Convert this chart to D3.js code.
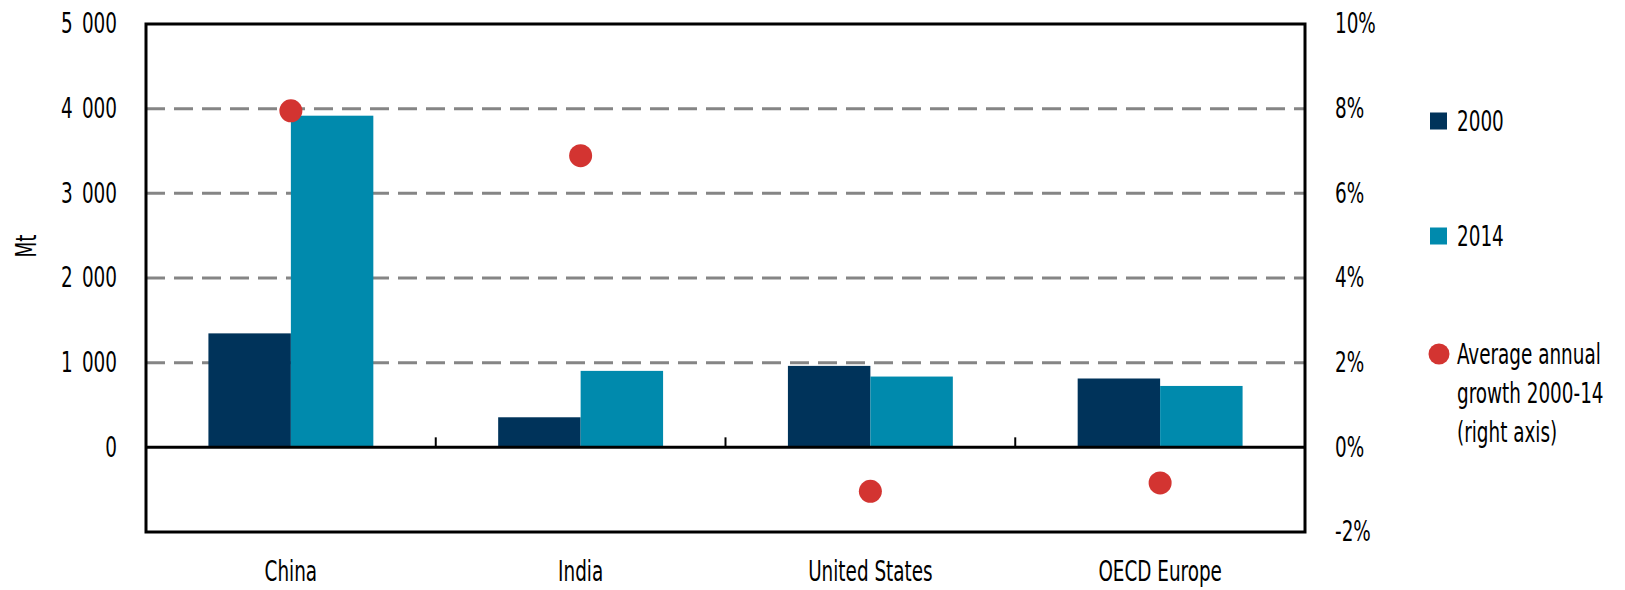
<!DOCTYPE html>
<html>
<head>
<meta charset="utf-8">
<script src="https://cdn.jsdelivr.net/npm/d3@7"></script>
<style>
  body { margin: 0; background: #fff; }
  svg text { font-family: "DejaVu Sans Condensed", "Liberation Sans Narrow", sans-serif; fill: #000; }
</style>
</head>
<body>
<div id="chart"></div>
<script>
// data
const regions = ["China", "India", "United States", "OECD Europe"];
const years = ["2000", "2014"];
const values2000 = [1346, 355, 962, 813];
const values2014 = [3917, 903, 836, 725];
const growth = [7.95, 6.89, -1.04, -0.84];   // % per year, right axis
const leftTicks = [0, 1000, 2000, 3000, 4000, 5000];
const rightTicks = [-2, 0, 2, 4, 6, 8, 10];
const gridTicks = [1000, 2000, 3000, 4000];
const legendLabels = ["2000", "2014", "Average annual|growth 2000-14|(right axis)"];

const colors = { y2000: "#00335a", y2014: "#008aad", dot: "#d33431", grid: "#858585" };

const W = 1625, H = 590;
const plot = { left: 146, right: 1305, top: 24, bottom: 532 };
const fontSize = 28;
const squeezeX = 0.73; // reference font is a narrow condensed face

const svg = d3.select("#chart").append("svg")
    .attr("width", W)
    .attr("height", H);

// scales
const y = d3.scaleLinear().domain([-1000, 5000]).range([plot.bottom, plot.top]);
const yR = d3.scaleLinear().domain([-2, 10]).range([plot.bottom, plot.top]);
const x = d3.scaleBand().domain(regions).range([plot.left, plot.right]).padding(0);
const x1 = d3.scaleBand().domain(years).range([0, x.bandwidth()]).paddingInner(0).paddingOuter(0.757);

const rows = regions.map((r, i) => ({ region: r, values: [values2000[i], values2014[i]] }));

// compress text horizontally, keeping its anchor point
function squeeze(texts) {
    texts.each(function () {
        const t = d3.select(this);
        const x0 = +t.attr("x") || 0;
        t.attr("x", x0 / squeezeX)
            .attr("transform", `scale(${squeezeX},1)`);
    });
}

// gridlines
svg.append("g")
    .selectAll("line")
    .data(gridTicks)
    .join("line")
    .attr("x1", plot.left)
    .attr("x2", plot.right)
    .attr("y1", d => y(d))
    .attr("y2", d => y(d))
    .attr("stroke", colors.grid)
    .attr("stroke-width", 3)
    .attr("stroke-dasharray", "19,9");

// bars
svg.append("g")
    .selectAll("g")
    .data(rows)
    .join("g")
    .attr("transform", d => `translate(${x(d.region)},0)`)
    .selectAll("rect")
    .data(d => d.values.map((v, i) => ({ year: years[i], value: v })))
    .join("rect")
    .attr("x", d => x1(d.year))
    .attr("width", x1.bandwidth())
    .attr("y", d => y(Math.max(0, d.value)))
    .attr("height", d => Math.abs(y(d.value) - y(0)))
    .attr("fill", d => d.year === "2000" ? colors.y2000 : colors.y2014);

// zero line
svg.append("line")
    .attr("x1", plot.left)
    .attr("x2", plot.right)
    .attr("y1", y(0))
    .attr("y2", y(0))
    .attr("stroke", "#000")
    .attr("stroke-width", 3);

// small separators between categories, pointing up from the zero line
svg.append("g")
    .selectAll("line")
    .data(regions.slice(0, -1))
    .join("line")
    .attr("x1", d => x(d) + x.step())
    .attr("x2", d => x(d) + x.step())
    .attr("y1", y(0))
    .attr("y2", y(0) - 10)
    .attr("stroke", "#000")
    .attr("stroke-width", 2);

// frame
svg.append("rect")
    .attr("x", plot.left)
    .attr("y", plot.top)
    .attr("width", plot.right - plot.left)
    .attr("height", plot.bottom - plot.top)
    .attr("fill", "none")
    .attr("stroke", "#000")
    .attr("stroke-width", 3);

// growth dots
svg.append("g")
    .selectAll("circle")
    .data(growth)
    .join("circle")
    .attr("cx", (d, i) => x(regions[i]) + x.bandwidth() / 2)
    .attr("cy", d => yR(d))
    .attr("r", 11.5)
    .attr("fill", colors.dot);

// axes
const locale = d3.formatLocale({ decimal: ".", thousands: "\u2002", grouping: [3], currency: ["", ""] });
const fmtMt = locale.format(",");

const leftAxis = svg.append("g")
    .attr("transform", `translate(${plot.left},0)`)
    .call(d3.axisLeft(y).tickValues(leftTicks).tickFormat(fmtMt).tickSize(0).tickPadding(29));

const rightAxis = svg.append("g")
    .attr("transform", `translate(${plot.right},0)`)
    .call(d3.axisRight(yR).tickValues(rightTicks).tickFormat(d => d + "%").tickSize(0).tickPadding(30));

const bottomAxis = svg.append("g")
    .attr("transform", `translate(0,${plot.bottom})`)
    .call(d3.axisBottom(x).tickSize(0).tickPadding(29));

[leftAxis, rightAxis, bottomAxis].forEach(g => {
    g.select(".domain").remove();
    g.selectAll("text")
        .attr("font-size", fontSize)
        .attr("font-family", null)
        .call(squeeze);
});

// y axis title
svg.append("text")
    .attr("transform", `translate(36,246) rotate(-90) scale(${squeezeX},1)`)
    .attr("text-anchor", "middle")
    .attr("font-size", fontSize)
    .text("Mt");

// legend
const legend = svg.append("g");
const legendY = [121, 236, 354];

legend.append("rect")
    .attr("x", 1430).attr("y", legendY[0] - 8.5)
    .attr("width", 17).attr("height", 17)
    .attr("fill", colors.y2000);
legend.append("rect")
    .attr("x", 1430).attr("y", legendY[1] - 8.5)
    .attr("width", 17).attr("height", 17)
    .attr("fill", colors.y2014);
legend.append("circle")
    .attr("cx", 1439).attr("cy", legendY[2])
    .attr("r", 10.5)
    .attr("fill", colors.dot);

legendLabels.forEach((label, i) => {
    const t = legend.append("text")
        .attr("transform", `translate(1457,${legendY[i]}) scale(${squeezeX},1)`)
        .attr("font-size", fontSize);
    label.split("|").forEach((line, j) => {
        t.append("tspan")
            .attr("x", 0)
            .attr("dy", j === 0 ? "0.36em" : 39)
            .text(line);
    });
});
</script>
</body>
</html>
